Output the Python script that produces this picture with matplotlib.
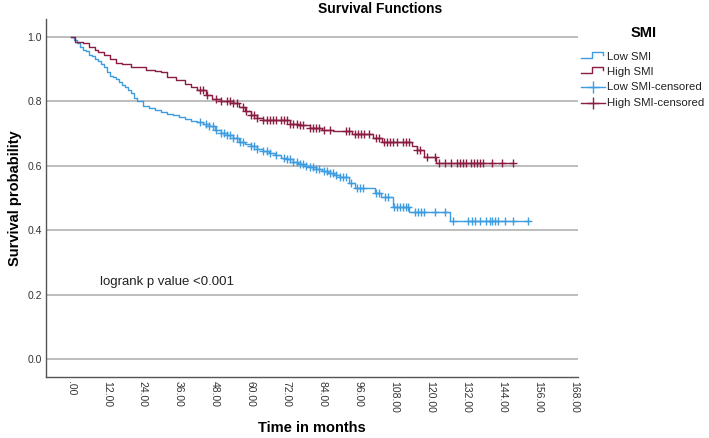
import numpy as np
import matplotlib.pyplot as plt

plt.rcParams['font.family'] = ['Liberation Sans', 'DejaVu Sans']

BLUE = '#3d9de0'
RED = '#8c1d42'

# Kaplan-Meier steps (time in months, survival after step)
low_t = [0, 1, 2, 3, 4, 5, 6, 7, 8, 9, 10, 11, 12, 13, 14, 15, 16, 17, 18, 19,
         20, 21, 22, 24, 26, 28, 30, 32, 34, 36, 38, 40, 42, 44, 46, 48, 50, 52,
         54, 56, 58, 60, 62, 64, 66, 68, 70, 72, 74, 76, 78, 80, 82, 84, 86, 88,
         90, 93, 95, 101.5, 103.5, 107.5, 113, 126.6, 152.6]
low_s = [1.0, 0.99, 0.98, 0.97, 0.96, 0.955, 0.945, 0.94, 0.93, 0.925, 0.915,
         0.905, 0.89, 0.88, 0.875, 0.87, 0.86, 0.85, 0.845, 0.835, 0.825, 0.81,
         0.80, 0.785, 0.778, 0.772, 0.768, 0.762, 0.757, 0.75, 0.745, 0.74,
         0.735, 0.73, 0.722, 0.712, 0.703, 0.695, 0.685, 0.675, 0.668, 0.66,
         0.652, 0.645, 0.64, 0.632, 0.625, 0.62, 0.612, 0.605, 0.60, 0.595,
         0.59, 0.585, 0.578, 0.57, 0.565, 0.545, 0.53, 0.515, 0.503, 0.472,
         0.456, 0.428, 0.428]

high_t = [0, 1.5, 4, 6, 8, 9, 11, 13, 15, 17, 20, 22, 25, 28, 30, 32, 35, 38,
          40, 42, 45, 47, 50, 54, 56, 58, 60, 62, 64, 73, 76, 80, 84, 87.5, 94,
          101, 104, 114, 115.5, 118, 122, 147.7]
high_s = [1.0, 0.985, 0.98, 0.97, 0.96, 0.953, 0.945, 0.93, 0.92, 0.915, 0.908,
          0.905, 0.897, 0.893, 0.89, 0.875, 0.865, 0.855, 0.845, 0.835, 0.82,
          0.807, 0.80, 0.795, 0.783, 0.77, 0.758, 0.748, 0.742, 0.73, 0.725,
          0.717, 0.712, 0.708, 0.70, 0.687, 0.675, 0.662, 0.65, 0.628, 0.608,
          0.608]

# censored cases
low_cens = [43, 45, 46, 47.5, 48.5, 50, 51, 52, 53, 54, 55.5, 56.5, 57.5, 60,
            61, 62, 64, 65.5, 66.5, 68.5, 71, 72, 73, 74, 75.5, 76.5, 77.5,
            78.5, 80, 81, 82, 83, 84.5, 85.5, 86.5, 87.5, 88.5, 90, 91, 92,
            93.5, 95.5, 96.5, 97.5, 102, 103, 105, 106, 108, 109, 110, 111,
            112, 112.7, 115, 116, 117, 118, 121.5, 125, 127.7, 132.7, 133.8,
            135, 136.6, 138.8, 140, 140.5, 141.6, 142.7, 145, 147.7, 152.6]
high_cens = [43, 44, 45.5, 48.5, 50, 52, 53, 54, 55.5, 57.5, 58.5, 60, 61, 62,
             64, 65.5, 66.5, 67.5, 68.5, 70, 71, 72, 73, 74, 75.5, 76.5, 77.5,
             80, 81, 82, 83, 84.5, 86.5, 92, 93, 95, 96, 97, 98, 99.5, 102,
             103, 104.5, 105.5, 106.5, 107.5, 109, 111, 112, 113, 115.5, 116.5,
             119, 121.5, 123, 125, 127, 129, 130, 131, 132, 133.5, 134.5,
             135.5, 136.5, 137.5, 140.5, 144, 147.7]

xticks = np.arange(0, 169, 12)
xticklabels = ['.00'] + [f'{v:.2f}' for v in xticks[1:]]
yticks = [0.0, 0.2, 0.4, 0.6, 0.8, 1.0]


def surv_at(times, surv, c):
    i = np.searchsorted(times, c, side='right') - 1
    return np.array(surv)[i]


fig = plt.figure(figsize=(7.09, 4.38), dpi=100)
ax = fig.add_axes([0.0649, 0.139, 0.7500, 0.818])

for y in yticks:
    ax.axhline(y, color='#bdbdbd', linewidth=1.4, zorder=0)

ax.step(low_t, low_s, where='post', color=BLUE, linewidth=1.0)
ax.step(high_t, high_s, where='post', color=RED, linewidth=1.0)
ax.plot(low_cens, [surv_at(low_t, low_s, c) for c in low_cens], '+',
        color=BLUE, markersize=6, markeredgewidth=1.0)
ax.plot(high_cens, [surv_at(high_t, high_s, c) for c in high_cens], '+',
        color=RED, markersize=6, markeredgewidth=1.0)

ax.set_xlim(-8.35, 169.3)
ax.set_ylim(-0.056, 1.056)
ax.set_xticks(xticks)
ax.set_xticklabels(xticklabels, rotation=-90, fontsize=7.5, color='#333333')
ax.set_yticks(yticks)
ax.set_yticklabels([f'{v:.1f}' for v in yticks], fontsize=7.5, color='#333333')
ax.tick_params(length=0, pad=3)
for s in ['top', 'right']:
    ax.spines[s].set_visible(False)
for s in ['left', 'bottom']:
    ax.spines[s].set_color('#555555')
    ax.spines[s].set_linewidth(1.0)

ax.set_ylabel('Survival probability', fontsize=10.5, fontweight='bold', labelpad=4)
fig.text(312/709, 1 - 428/438, 'Time in months', fontsize=10.5, fontweight='bold',
         ha='center', va='center')
fig.text(100/709, 1 - 282/438, 'logrank p value <0.001', fontsize=9.5,
         va='center', ha='left', color='#222222')
fig.text(380/709, 1 - 9/438, 'Survival Functions', fontsize=10, fontweight='bold',
         ha='center', va='center')

# legend drawn by hand in pixel coordinates
lax = fig.add_axes([0, 0, 1, 1], facecolor='none')
lax.set_xlim(0, 709)
lax.set_ylim(438, 0)
lax.axis('off')
lax.text(644, 33, 'SMI', fontsize=10.5, fontweight='bold', ha='center', va='center')
labels = ['Low SMI', 'High SMI', 'Low SMI-censored', 'High SMI-censored']
colors = [BLUE, RED, BLUE, RED]
rows = [57, 72, 87, 103]
for i, (lab, col, yy) in enumerate(zip(labels, colors, rows)):
    if i < 2:
        lax.plot([581, 592, 592, 603, 603], [yy + 1, yy + 1, yy - 5, yy - 5, yy - 2],
                 color=col, linewidth=1.0)
    else:
        lax.plot([581, 605], [yy, yy], color=col, linewidth=1.0)
        lax.plot([593], [yy], '+', color=col, markersize=9, markeredgewidth=1.0)
    lax.text(607, yy, lab, fontsize=8.2, va='center', ha='left', color='#222222')

plt.savefig('out.png', dpi=100)
